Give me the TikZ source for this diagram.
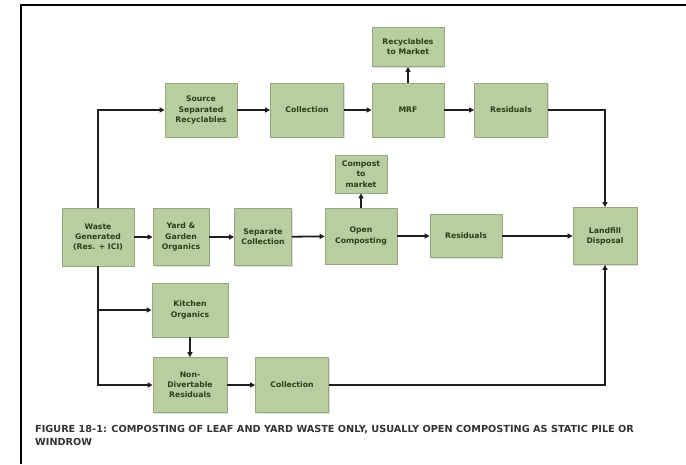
\documentclass[tikz,border=0pt]{standalone}
\usepackage{fontspec}
\setmainfont{DejaVu Sans}
\usetikzlibrary{arrows.meta,shadows}
\definecolor{boxfill}{RGB}{184,206,160}
\definecolor{boxedge}{RGB}{150,168,130}
\definecolor{boxtext}{RGB}{38,66,24}
\definecolor{linecol}{RGB}{30,30,30}
\begin{document}
\begin{tikzpicture}[x=1pt,y=-1pt,
  pbox/.style={draw=boxedge,line width=0.8pt,fill=boxfill,align=center,
    font=\fontsize{7.7}{10.2}\selectfont\bfseries,text=boxtext,inner sep=1pt,
    drop shadow={shadow xshift=1pt,shadow yshift=-1pt,fill=black!25}},
  conn/.style={draw=linecol,line width=1.8pt,-{Triangle[length=5pt,width=5pt]}},
  captext/.style={anchor=base west,inner sep=0pt,font=\fontsize{9.7}{11}\selectfont\bfseries,text=black!80}]
\useasboundingbox (0,0) rectangle (686,464);
\fill[white] (0,0) rectangle (686,464);
% frame
\draw[line width=2.2pt,black] (21,464) -- (21,5) -- (686,5);
% top row
\node[pbox,minimum width=72pt,minimum height=54pt] (src) at (201,110) {Source\\Separated\\Recyclables};
\node[pbox,minimum width=73pt,minimum height=54pt] (col1) at (307,110) {Collection};
\node[pbox,minimum width=72pt,minimum height=54pt] (mrf) at (408,110) {MRF};
\node[pbox,minimum width=72pt,minimum height=39pt] (rtm) at (408,47) {Recyclables\\to Market};
\node[pbox,minimum width=73pt,minimum height=54pt] (res1) at (511,110) {Residuals};
% middle row
\node[pbox,minimum width=72pt,minimum height=58pt] (waste) at (98,237) {Waste\\Generated\\(Res. + ICI)};
\node[pbox,minimum width=56pt,minimum height=57pt] (yard) at (181,237) {Yard \&\\Garden\\Organics};
\node[pbox,minimum width=57pt,minimum height=57pt] (sep) at (263,237) {Separate\\Collection};
\node[pbox,minimum width=72pt,minimum height=56pt] (open) at (361,236) {Open\\Composting};
\node[pbox,minimum width=52pt,minimum height=38pt] (ctm) at (361,174) {Compost\\to\\market};
\node[pbox,minimum width=72pt,minimum height=43pt] (res2) at (466,236) {Residuals};
\node[pbox,minimum width=64pt,minimum height=57pt] (land) at (605,236) {Landfill\\Disposal};
% bottom
\node[pbox,minimum width=76pt,minimum height=54pt] (kit) at (190,310) {Kitchen\\Organics};
\node[pbox,minimum width=74pt,minimum height=55pt] (nondiv) at (190,385) {Non-\\Divertable\\Residuals};
\node[pbox,minimum width=73pt,minimum height=55pt] (col2) at (292,385) {Collection};
% connectors
\draw[conn] (waste.north) |- (src.west);
\draw[conn] (src) -- (col1);
\draw[conn] (col1) -- (mrf);
\draw[conn] (mrf) -- (res1);
\draw[conn] (mrf) -- (rtm);
\draw[conn] (res1.east) -| (land.north);
\draw[conn] (waste) -- (yard);
\draw[conn] (yard) -- (sep);
\draw[conn] (sep) -- (open);
\draw[conn] (open) -- (ctm);
\draw[conn] (open) -- (res2);
\draw[conn] (res2) -- (land);
\draw[conn] (waste.south) |- (nondiv.west);
\coordinate (kb) at (waste.south |- kit.west);
\draw[conn] (kb) -- (kit.west);
\draw[conn] (kit) -- (nondiv);
\draw[conn] (nondiv) -- (col2);
\draw[conn] (col2.east) -| (land.south);
% caption
\node[captext] (cap1) at (35,432) {FIGURE 18-1: COMPOSTING OF LEAF AND YARD WASTE ONLY, USUALLY OPEN COMPOSTING AS STATIC PILE OR};
\node[captext] (cap2) at (35,445) {WINDROW};
\end{tikzpicture}
\end{document}
